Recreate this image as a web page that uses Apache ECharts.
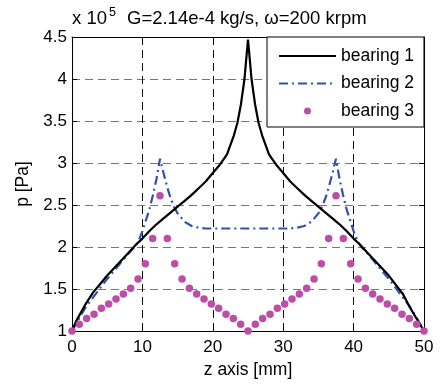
<!DOCTYPE html>
<html><head><meta charset="utf-8">
<script src="https://cdn.jsdelivr.net/npm/echarts/dist/echarts.min.js"></script>
<style>html,body{margin:0;padding:0;background:#fff}#c{width:443px;height:385px}</style>
</head><body><div id="c"></div>
<script>
const FONT = '"Liberation Sans", Arial, Helvetica, sans-serif';
const seriesNames = ['bearing 1', 'bearing 2', 'bearing 3'];
const xTickValues = [0, 10, 20, 30, 40, 50];
const yTickValues = [1, 1.5, 2, 2.5, 3, 3.5, 4, 4.5];

// bearing 1 (solid black)
const b1X = [0,0.5,1,2,3,4,5,6,7,8,9,10,11,12,13,14,15,16,17,18,19,20,21,22,23,23.5,24,24.5,25,
             25.5,26,26.5,27,28,29,30,31,32,33,34,35,36,37,38,39,40,41,42,43,44,45,46,47,48,49,49.5,50];
const b1Y = [1.00,1.10,1.18,1.33,1.46,1.56,1.66,1.75,1.84,1.93,2.02,2.10,2.19,2.27,2.34,2.41,2.48,2.55,2.62,2.70,2.78,2.88,2.98,3.10,3.33,3.48,3.70,4.00,4.47,
             4.00,3.70,3.48,3.33,3.10,2.98,2.88,2.78,2.70,2.62,2.55,2.48,2.41,2.34,2.27,2.19,2.10,2.02,1.93,1.84,1.75,1.66,1.55,1.44,1.28,1.14,1.07,1.00];

// bearing 2 (blue dash-dot)
const b2X = [0,1,2,3,4,5,6,7,8,9,9.5,10,11,11.5,12,12.5,13,13.5,14,14.5,15,16,17,18,19,20,
             30,31,32,33,34,35,35.5,36,36.5,37,37.5,38,38.5,39,40,40.5,41,42,43,44,45,46,47,48,49,50];
const b2Y = [1.00,1.15,1.29,1.40,1.51,1.62,1.72,1.82,1.92,2.01,2.08,2.19,2.45,2.62,2.81,3.05,2.88,2.72,2.58,2.48,2.40,2.30,2.25,2.23,2.22,2.22,
             2.22,2.22,2.23,2.25,2.30,2.40,2.48,2.58,2.72,2.88,3.05,2.81,2.62,2.45,2.19,2.08,2.01,1.92,1.82,1.72,1.62,1.51,1.40,1.29,1.15,1.00];

// bearing 3 (magenta dots)
const b3X = [0,1.04,2.08,3.13,4.17,5.21,6.25,7.29,8.33,9.38,10.42,11.46,12.5,13.54,14.58,15.63,16.67,17.71,18.75,19.79,20.83,21.88,22.92,23.96,25,
             26.04,27.08,28.13,29.17,30.21,31.25,32.29,33.33,34.38,35.42,36.46,37.5,38.54,39.58,40.63,41.67,42.71,43.75,44.79,45.83,46.88,47.92,48.96,50];
const b3Y = [1.00,1.08,1.15,1.20,1.27,1.32,1.38,1.44,1.51,1.62,1.80,2.10,2.61,2.10,1.80,1.62,1.51,1.44,1.38,1.32,1.27,1.20,1.15,1.08,1.00,
             1.08,1.15,1.20,1.27,1.32,1.38,1.44,1.51,1.62,1.80,2.10,2.61,2.10,1.80,1.62,1.51,1.44,1.38,1.32,1.27,1.20,1.15,1.08,1.00];

const zip = (xs, ys) => xs.map((x, i) => [x, ys[i]]);

const chart = echarts.init(document.getElementById('c'), null, {renderer: 'canvas'});

const baseX = {
  type: 'value', min: xTickValues[0], max: xTickValues[xTickValues.length - 1], interval: 10,
  axisLine: {show: true, onZero: false, lineStyle: {color: '#000', width: 1}},
  axisTick: {show: true, inside: true, length: 5, lineStyle: {color: '#000'}},
};
const baseY = {
  type: 'value', min: yTickValues[0], max: yTickValues[yTickValues.length - 1], interval: 0.5,
  axisLine: {show: true, onZero: false, lineStyle: {color: '#000', width: 1}},
  axisTick: {show: true, inside: true, length: 5, lineStyle: {color: '#000'}},
};

chart.setOption({
  animation: false,
  backgroundColor: '#fff',
  grid: {left: 72, right: 19, top: 37, bottom: 54, containLabel: false, outerBoundsMode: 'none'},
  xAxis: [
    Object.assign({}, baseX, {
      position: 'bottom',
      name: 'z axis [mm]', nameLocation: 'middle', nameGap: 30,
      nameTextStyle: {fontSize: 17.5, color: '#000', fontFamily: FONT},
      axisLabel: {show: true, fontSize: 17, color: '#000', fontFamily: FONT, margin: 8},
      splitLine: {show: true, lineStyle: {color: '#111', width: 1, type: [8, 5]}}
    }),
    Object.assign({}, baseX, {
      position: 'top',
      axisLabel: {show: false}, splitLine: {show: false}
    })
  ],
  yAxis: [
    Object.assign({}, baseY, {
      position: 'left',
      name: 'p [Pa]', nameLocation: 'middle', nameGap: 40, nameRotate: 90,
      nameTextStyle: {fontSize: 17.5, color: '#000', fontFamily: FONT},
      axisLabel: {show: true, fontSize: 17, color: '#000', fontFamily: FONT, margin: 5},
      splitLine: {show: true, lineStyle: {color: '#777', width: 1.2, type: [8, 5]}}
    }),
    Object.assign({}, baseY, {
      position: 'right',
      axisLabel: {show: false}, splitLine: {show: false}
    })
  ],
  legend: {
    data: [
      {name: seriesNames[0], itemStyle: {opacity: 0, borderWidth: 0}},
      {name: seriesNames[1], itemStyle: {opacity: 0, borderWidth: 0}},
      {name: seriesNames[2]}
    ],
    orient: 'vertical',
    left: 267, top: 37,
    backgroundColor: '#fff',
    borderColor: '#000', borderWidth: 1, borderRadius: 0,
    padding: [10, 10, 7, 11],
    itemWidth: 57, itemHeight: 7, itemGap: 9.5,
    textStyle: {fontSize: 17.5, color: '#000', fontFamily: FONT}
  },
  graphic: [
    {type: 'text', x: 72, y: 19, style: {text: 'x 10', font: '18.5px ' + FONT, fill: '#000', verticalAlign: 'middle', textVerticalAlign: 'middle'}},
    {type: 'text', x: 109, y: 13, style: {text: '5', font: '12.5px ' + FONT, fill: '#000', verticalAlign: 'middle', textVerticalAlign: 'middle'}},
    {type: 'text', x: 127, y: 19, style: {text: 'G=2.14e-4 kg/s, ω=200 krpm', font: '18.5px ' + FONT, fill: '#000', verticalAlign: 'middle', textVerticalAlign: 'middle'}}
  ],
  series: [
    {
      name: seriesNames[0], type: 'line', data: zip(b1X, b1Y),
      symbol: 'none', showSymbol: false, smooth: false,
      lineStyle: {color: '#000', width: 2.2}, itemStyle: {color: '#000'}, z: 3
    },
    {
      name: seriesNames[1], type: 'line', data: zip(b2X, b2Y),
      symbol: 'none', showSymbol: false, smooth: false,
      lineStyle: {color: '#3152A8', width: 2.2, type: [9, 4, 2, 4]}, itemStyle: {color: '#3152A8'}, z: 2
    },
    {
      name: seriesNames[2], type: 'scatter', data: zip(b3X, b3Y),
      symbol: 'circle', symbolSize: 7.5,
      itemStyle: {color: '#BE4DA8', opacity: 1}, z: 4
    }
  ]
});
</script>
</body></html>
